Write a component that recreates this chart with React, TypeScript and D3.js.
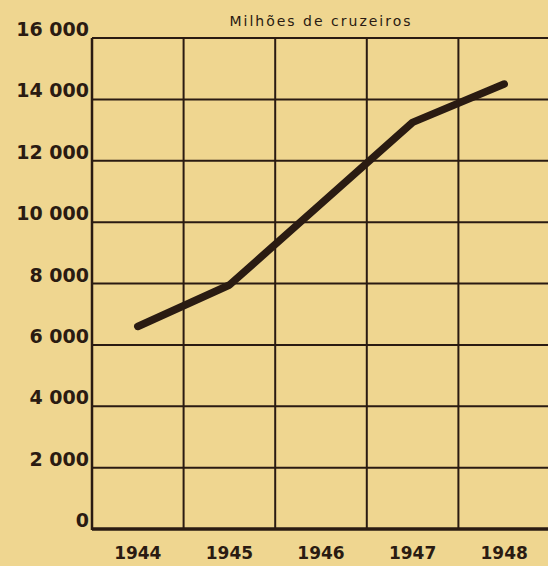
import { scaleBand, scaleLinear, line } from "d3";

const width = 548;
const height = 566;
const margin = { top: 38, right: -2, bottom: 37, left: 92 };

const years = ["1944", "1945", "1946", "1947", "1948"];
const valores = [6600, 7950, 10600, 13250, 14500];
const yTicks = [0, 2000, 4000, 6000, 8000, 10000, 12000, 14000, 16000];
const yTickLabels = ["0", "2 000", "4 000", "6 000", "8 000", "10 000", "12 000", "14 000", "16 000"];
const titulo = "Milhões de cruzeiros";

const bg = "#efd690";
const ink = "#2a1b12";

const App = () => {
  const innerWidth = width - margin.left - margin.right;
  const innerHeight = height - margin.top - margin.bottom;

  const xScale = scaleBand<string>().domain(years).range([0, innerWidth]);
  const yScale = scaleLinear().domain([0, 16000]).range([innerHeight, 0]);

  const lineGenerator = line<number>()
    .x((d, i) => (xScale(years[i]) ?? 0) + xScale.bandwidth() / 2)
    .y((d) => yScale(d));

  return (
    <svg
      width={width}
      height={height}
      style={{ position: "absolute", left: 0, top: 0, background: bg }}
    >
      <rect width={width} height={height} fill={bg} />
      <g transform={`translate(${margin.left},${margin.top})`}>
        {yTicks.map((t, i) => (
          <g key={t} transform={`translate(0,${yScale(t)})`}>
            <line
              x1={0}
              x2={innerWidth}
              stroke={ink}
              strokeWidth={t === 0 ? 3.5 : 2}
            />
            <text
              x={-3}
              y={-2}
              textAnchor="end"
              fontFamily="DejaVu Sans, sans-serif"
              fontWeight="bold"
              fontSize={19}
              fill={ink}
            >
              {yTickLabels[i]}
            </text>
          </g>
        ))}
        <line x1={0} x2={0} y1={0} y2={innerHeight + 1} stroke={ink} strokeWidth={2.5} />
        {years.map((y) => (
          <g key={y}>
            <line
              x1={(xScale(y) ?? 0) + xScale.bandwidth()}
              x2={(xScale(y) ?? 0) + xScale.bandwidth()}
              y1={0}
              y2={innerHeight}
              stroke={ink}
              strokeWidth={2}
            />
            <text
              x={(xScale(y) ?? 0) + xScale.bandwidth() / 2}
              y={innerHeight + 30}
              textAnchor="middle"
              fontFamily="DejaVu Sans, sans-serif"
              fontWeight="bold"
              fontSize={17}
              fill={ink}
            >
              {y}
            </text>
          </g>
        ))}
        <path
          d={lineGenerator(valores) ?? ""}
          fill="none"
          stroke={ink}
          strokeWidth={7.5}
          strokeLinecap="round"
          strokeLinejoin="round"
        />
      </g>
      <text
        x={321}
        y={26}
        textAnchor="middle"
        fontFamily="DejaVu Sans, sans-serif"
        fontSize={14}
        letterSpacing={2}
        fill={ink}
      >
        {titulo}
      </text>
    </svg>
  );
};

export default App;
